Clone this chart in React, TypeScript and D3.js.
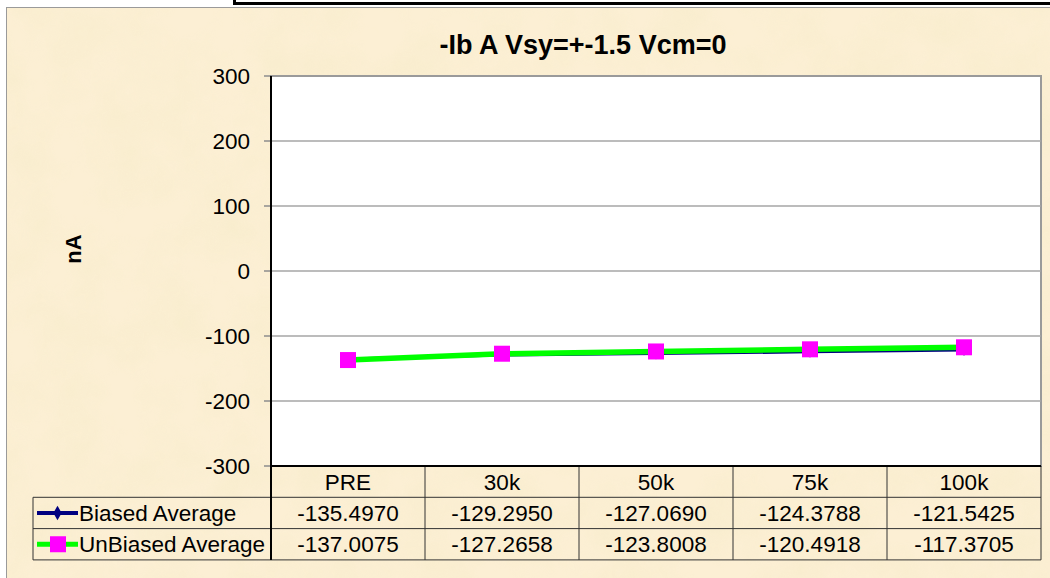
import React from 'react';
import * as d3 from 'd3';

const categories = ['PRE', '30k', '50k', '75k', '100k'];
const biased = [-135.497, -129.295, -127.069, -124.3788, -121.5425];
const unbiased = [-137.0075, -127.2658, -123.8008, -120.4918, -117.3705];
const yTicks = [-300, -200, -100, 0, 100, 200, 300];

const W = 1050;
const H = 578;
const FONT = 'Arial, "Liberation Sans", sans-serif';

export default function App() {
  const plot = { left: 271, right: 1041, top: 76, bottom: 466 };
  const rowH = 31.3;
  const tableLeft = 33;

  const x = d3.scaleBand<string>().domain(categories).range([plot.left, plot.right]);
  const y = d3.scaleLinear().domain([-300, 300]).range([plot.bottom, plot.top]);
  const cx = (c: string) => (x(c) as number) + x.bandwidth() / 2;

  const line = d3.line<number>()
    .x((_, i) => cx(categories[i]))
    .y(d => y(d));

  const fmt = (v: number) => v.toFixed(4);
  const rows = [
    { name: 'Biased Average', values: biased },
    { name: 'UnBiased Average', values: unbiased },
  ];
  const rowTop = (r: number) => plot.bottom + rowH * r;
  const fs = 22.5;

  return (
    <svg width={W} height={H} style={{ position: 'absolute', left: 0, top: 0 }} fontFamily={FONT}>
      <defs>
        <filter id="parchment" x="0" y="0" width="100%" height="100%">
          <feTurbulence type="fractalNoise" baseFrequency="0.02" numOctaves="4" seed="7" />
          <feColorMatrix type="matrix" values="0 0 0 0 0.93  0 0 0 0 0.84  0 0 0 0 0.6  0 0 0 1.4 -0.45" />
        </filter>
      </defs>
      <rect x={0} y={0} width={W} height={H} fill="#fff" />
      <path d="M234.5,0 V3.5 H1050" fill="none" stroke="#000" strokeWidth={3} />
      <rect x={6.5} y={7.5} width={W} height={H} fill="#fcefd4" stroke="#9a9a9a" strokeWidth={1} />
      <rect x={7} y={8} width={W} height={H} filter="url(#parchment)" opacity={0.8} />

      <text x={583} y={54} textAnchor="middle" fontSize={27} fontWeight="bold">-Ib A Vsy=+-1.5 Vcm=0</text>

      <text transform={`translate(81,${(plot.top + plot.bottom) / 2 - 22}) rotate(-90)`} textAnchor="middle" fontSize={22} fontWeight="bold">nA</text>

      <rect x={plot.left} y={plot.top} width={plot.right - plot.left} height={plot.bottom - plot.top} fill="#fff" stroke="#9a9a9a" strokeWidth={2} />
      {yTicks.map(t => (
        <g key={t}>
          {t !== -300 && t !== 300 && (
            <line x1={plot.left} x2={plot.right} y1={y(t)} y2={y(t)} stroke="#a6a6a6" strokeWidth={1.5} />
          )}
          <line x1={plot.left - 7} x2={plot.left} y1={y(t)} y2={y(t)} stroke="#8c8c8c" strokeWidth={1.5} />
          <text x={plot.left - 21} y={y(t)} dy="0.36em" textAnchor="end" fontSize={fs}>{t}</text>
        </g>
      ))}

      <path d={line(biased) || ''} fill="none" stroke="#000080" strokeWidth={3} />
      {biased.map((v, i) => (
        <path key={i} d={d3.symbol(d3.symbolDiamond, 40)() || ''} transform={`translate(${cx(categories[i])},${y(v)})`} fill="#000080" />
      ))}
      <path d={line(unbiased) || ''} fill="none" stroke="#00ff00" strokeWidth={5.5} />
      {unbiased.map((v, i) => (
        <rect key={i} x={cx(categories[i]) - 8} y={y(v) - 8} width={16} height={16} fill="#ff00ff" />
      ))}

      {/* data table */}
      <g stroke="#333" strokeWidth={1}>
        {[1, 2, 3].map(r => (
          <line key={r} x1={tableLeft} x2={plot.right} y1={rowTop(r)} y2={rowTop(r)} />
        ))}
        <line x1={tableLeft} x2={tableLeft} y1={rowTop(1)} y2={rowTop(3)} />
        {categories.map(c => (
          <line key={c} x1={(x(c) as number) + x.bandwidth()} x2={(x(c) as number) + x.bandwidth()} y1={plot.bottom} y2={rowTop(3)} />
        ))}
      </g>
      <line x1={plot.left} x2={plot.left} y1={plot.top} y2={rowTop(3)} stroke="#000" strokeWidth={2} />
      <line x1={plot.left} x2={plot.right} y1={plot.bottom} y2={plot.bottom} stroke="#000" strokeWidth={2} />

      {categories.map(c => (
        <text key={c} x={cx(c)} y={rowTop(0) + rowH / 2} dy="0.36em" textAnchor="middle" fontSize={fs}>{c}</text>
      ))}
      {rows.map((row, r) => (
        <g key={row.name}>
          {row.values.map((v, i) => (
            <text key={i} x={cx(categories[i])} y={rowTop(r + 1) + rowH / 2} dy="0.36em" textAnchor="middle" fontSize={fs}>{fmt(v)}</text>
          ))}
          <text x={79} y={rowTop(r + 1) + rowH / 2} dy="0.36em" fontSize={fs}>{row.name}</text>
          {r === 0 ? (
            <g>
              <line x1={37} x2={78} y1={rowTop(1) + rowH / 2} y2={rowTop(1) + rowH / 2} stroke="#000080" strokeWidth={4} />
              <path d={d3.symbol(d3.symbolDiamond, 60)() || ''} transform={`translate(57.5,${rowTop(1) + rowH / 2})`} fill="#000080" />
            </g>
          ) : (
            <g>
              <line x1={37} x2={78} y1={rowTop(2) + rowH / 2} y2={rowTop(2) + rowH / 2} stroke="#00ff00" strokeWidth={5} />
              <rect x={50} y={rowTop(2) + rowH / 2 - 8} width={16} height={16} fill="#ff00ff" />
            </g>
          )}
        </g>
      ))}
    </svg>
  );
}
